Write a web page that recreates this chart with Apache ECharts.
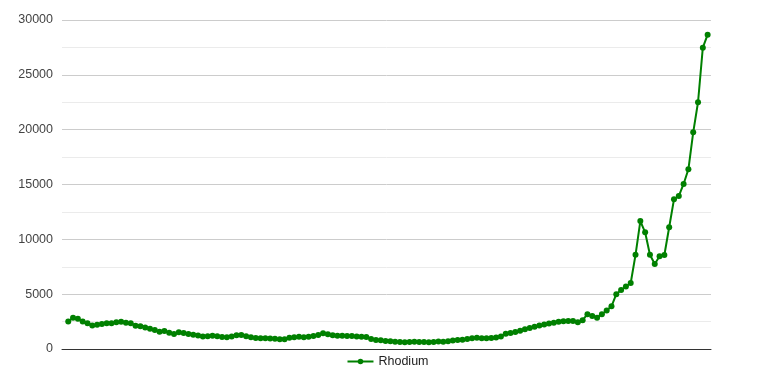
<!DOCTYPE html>
<html><head><meta charset="utf-8">
<script src="https://cdn.jsdelivr.net/npm/echarts@6/dist/echarts.min.js"></script>
<style>html,body{margin:0;padding:0;background:#fff}#c{width:775px;height:379px}</style>
</head><body><div id="c"></div>
<script>
const seriesName = "Rhodium";
const yTicks = [0, 5000, 10000, 15000, 20000, 25000, 30000];
const rhodium = [
2500,2850,2750,2500,2350,2150,2200,2280,2340,2350,
2430,2490,2400,2340,2130,2070,1950,1850,1730,1580,
1640,1490,1370,1520,1460,1370,1300,1230,1150,1160,
1200,1170,1100,1080,1150,1260,1270,1170,1070,1000,
975,975,960,940,900,890,1030,1065,1110,1070,
1120,1185,1270,1430,1340,1250,1215,1215,1185,1185,
1150,1120,1090,910,830,790,735,700,670,640,
610,640,670,640,640,615,640,690,650,700,
780,820,850,910,980,1020,990,980,1010,1040,
1150,1380,1470,1560,1670,1800,1910,2030,2150,2240,
2320,2390,2490,2530,2550,2550,2430,2630,3180,3010,
2860,3170,3500,3890,5000,5380,5700,6020,8590,11670,
10640,8600,7750,8450,8570,11100,13650,13950,15050,16390,
19760,22500,27480,28660
];
const chart = echarts.init(document.getElementById('c'));
chart.setOption({
  animation: false,
  textStyle: {fontFamily: 'Liberation Sans, Arial, sans-serif'},
  grid: {left: 62, right: 64, top: 20, bottom: 30},
  xAxis: {
    type: 'value', min: -1.3, max: 133.7,
    axisLine: {show: true, lineStyle: {color: '#333', width: 1}},
    axisTick: {show: false}, axisLabel: {show: false}, splitLine: {show: false}
  },
  yAxis: {
    type: 'value', min: yTicks[0], max: yTicks[yTicks.length-1], interval: 5000,
    axisLine: {show: false}, axisTick: {show: false},
    axisLabel: {color: '#444', fontSize: 12.5, margin: 9, formatter: v => String(v)},
    splitLine: {lineStyle: {color: '#cccccc'}},
    minorTick: {show: false, splitNumber: 2},
    minorSplitLine: {show: true, lineStyle: {color: '#ebebeb'}}
  },
  legend: {
    bottom: 6, left: 'center', itemWidth: 26, itemHeight: 7, itemGap: 6,
    textStyle: {color: '#222', fontSize: 12.5},
    data: [seriesName]
  },
  series: [{
    name: seriesName, type: 'line',
    data: rhodium.map((v, i) => [i, v]),
    symbol: 'circle', symbolSize: 6, showSymbol: true,
    lineStyle: {color: '#008000', width: 2},
    itemStyle: {color: '#008000'}
  }]
});
</script></body></html>
